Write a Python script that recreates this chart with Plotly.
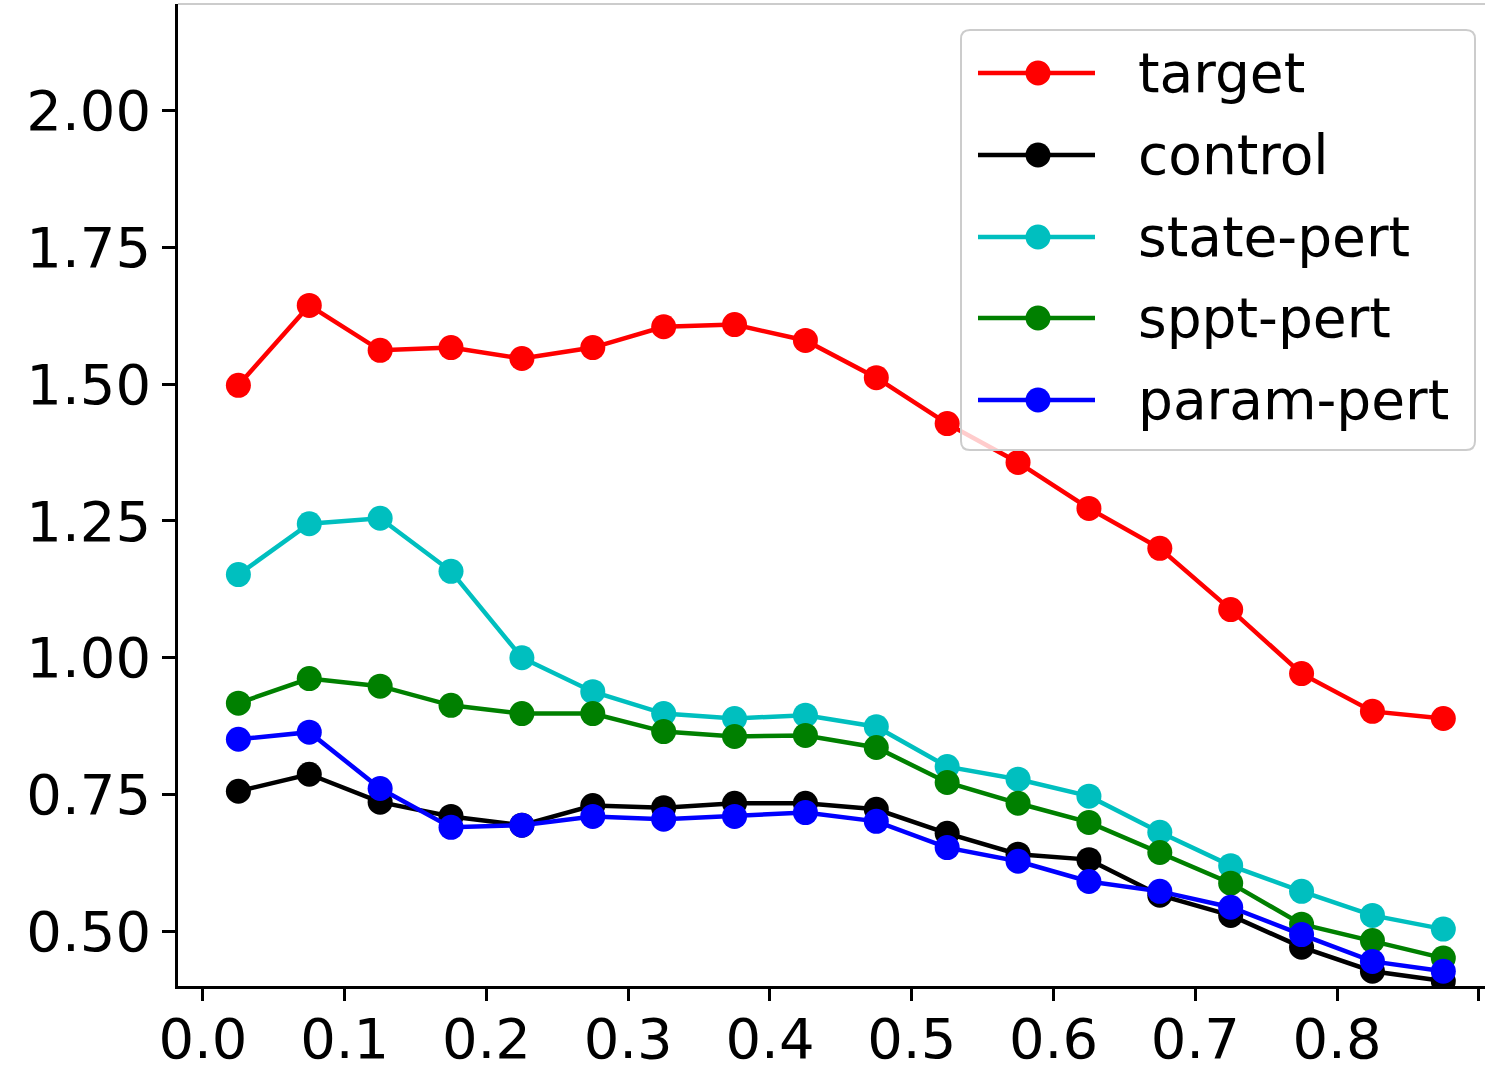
import plotly.graph_objects as go

# Bin centres along the x axis
x_centres = [0.025, 0.075, 0.125, 0.175, 0.225, 0.275, 0.325, 0.375, 0.425,
             0.475, 0.525, 0.575, 0.625, 0.675, 0.725, 0.775, 0.825, 0.875]

target = [1.498, 1.644, 1.562, 1.567, 1.547, 1.567, 1.605, 1.609, 1.580,
          1.512, 1.428, 1.357, 1.273, 1.200, 1.088, 0.971, 0.902, 0.889]
control = [0.756, 0.787, 0.736, 0.710, 0.694, 0.730, 0.726, 0.734, 0.734,
           0.723, 0.679, 0.641, 0.631, 0.566, 0.529, 0.471, 0.427, 0.409]
state_pert = [1.152, 1.245, 1.255, 1.158, 1.000, 0.938, 0.898, 0.889, 0.895,
              0.874, 0.801, 0.778, 0.747, 0.681, 0.620, 0.573, 0.529, 0.504]
sppt_pert = [0.917, 0.962, 0.948, 0.913, 0.898, 0.898, 0.865, 0.856, 0.858,
             0.836, 0.772, 0.734, 0.699, 0.644, 0.588, 0.513, 0.483, 0.451]
param_pert = [0.851, 0.864, 0.761, 0.690, 0.694, 0.710, 0.705, 0.710, 0.717,
              0.701, 0.653, 0.628, 0.591, 0.573, 0.544, 0.494, 0.445, 0.427]

series_names = ["target", "control", "state-pert", "sppt-pert", "param-pert"]
series_values = [target, control, state_pert, sppt_pert, param_pert]
series_colors = ["#ff0000", "#000000", "#00bfbf", "#008000", "#0000ff"]

x_tick_vals = [0.0, 0.1, 0.2, 0.3, 0.4, 0.5, 0.6, 0.7, 0.8, 0.9]
x_tick_text = ["0.0", "0.1", "0.2", "0.3", "0.4", "0.5", "0.6", "0.7", "0.8", ""]
y_tick_vals = [0.50, 0.75, 1.00, 1.25, 1.50, 1.75, 2.00]

FONT = "DejaVu Sans"
W, H = 1485, 1070
M_L, M_R, M_T, M_B = 178, 0, 4, 84
PLOT_W = W - M_L - M_R
PLOT_H = H - M_T - M_B


def px_x(px):
    """Page pixel column -> paper x."""
    return (px - M_L) / PLOT_W


def px_y(py):
    """Page pixel row -> paper y."""
    return 1 - (py - M_T) / PLOT_H


fig = go.Figure()
for name, vals, col in zip(series_names, series_values, series_colors):
    fig.add_trace(go.Scatter(
        x=x_centres, y=vals, name=name, mode="lines+markers",
        line=dict(color=col, width=4.5),
        marker=dict(color=col, size=25, line=dict(width=0)),
        showlegend=False,
    ))

# Legend drawn by hand: rounded frame, line+marker sample and label per series
shapes = [dict(type="line", xref="paper", yref="paper", x0=0, x1=1, y0=1, y1=1,
               line=dict(color="#cccccc", width=2))]

bx0, bx1, by0, by1, rad = 961, 1475, 30, 450, 9
rx, ry = rad / PLOT_W, rad / PLOT_H
L, R, T, B = px_x(bx0), px_x(bx1), px_y(by0), px_y(by1)
frame_path = (
    f"M{L + rx},{T} L{R - rx},{T} Q{R},{T} {R},{T - ry} "
    f"L{R},{B + ry} Q{R},{B} {R - rx},{B} "
    f"L{L + rx},{B} Q{L},{B} {L},{B + ry} "
    f"L{L},{T - ry} Q{L},{T} {L + rx},{T} Z"
)
shapes.append(dict(type="path", xref="paper", yref="paper", path=frame_path,
                   fillcolor="rgba(255,255,255,0.8)",
                   line=dict(color="#cccccc", width=2), layer="above"))

row_y = [73, 155, 237, 318, 400]
annotations = []
for name, col, ry_px in zip(series_names, series_colors, row_y):
    yy = px_y(ry_px)
    shapes.append(dict(type="line", xref="paper", yref="paper",
                       x0=px_x(978), x1=px_x(1095), y0=yy, y1=yy,
                       line=dict(color=col, width=4.5), layer="above"))
    shapes.append(dict(type="circle", xref="paper", yref="paper",
                       xsizemode="pixel", ysizemode="pixel",
                       xanchor=px_x(1038), yanchor=yy,
                       x0=-12.5, x1=12.5, y0=-12.5, y1=12.5,
                       fillcolor=col, line=dict(width=0), layer="above"))
    annotations.append(dict(xref="paper", yref="paper", x=px_x(1136), y=yy,
                            xanchor="left", yanchor="middle", showarrow=False,
                            text=name, font=dict(family=FONT, size=55, color="black")))

fig.update_layout(
    width=W, height=H,
    margin=dict(l=M_L, r=M_R, t=M_T, b=M_B),
    paper_bgcolor="white", plot_bgcolor="white",
    font=dict(family=FONT, size=55, color="black"),
    showlegend=False,
    xaxis=dict(
        range=[-0.0176, 0.9044], tickvals=x_tick_vals, ticktext=x_tick_text,
        showgrid=False, zeroline=False, showline=True, linecolor="black",
        linewidth=2.5, ticks="outside", ticklen=12, tickwidth=2.5,
        tickcolor="black", tickfont=dict(family=FONT, size=56), automargin=False,
        ticklabelstandoff=-10,
    ),
    yaxis=dict(
        range=[0.4, 2.195], tickvals=y_tick_vals, tickformat=".2f",
        showgrid=False, zeroline=False, showline=True, linecolor="black",
        linewidth=2.5, ticks="outside", ticklen=13, tickwidth=2.5,
        tickcolor="black", tickfont=dict(family=FONT, size=56), automargin=False,
    ),
    shapes=shapes,
    annotations=annotations,
)

fig.write_html("out.html")
